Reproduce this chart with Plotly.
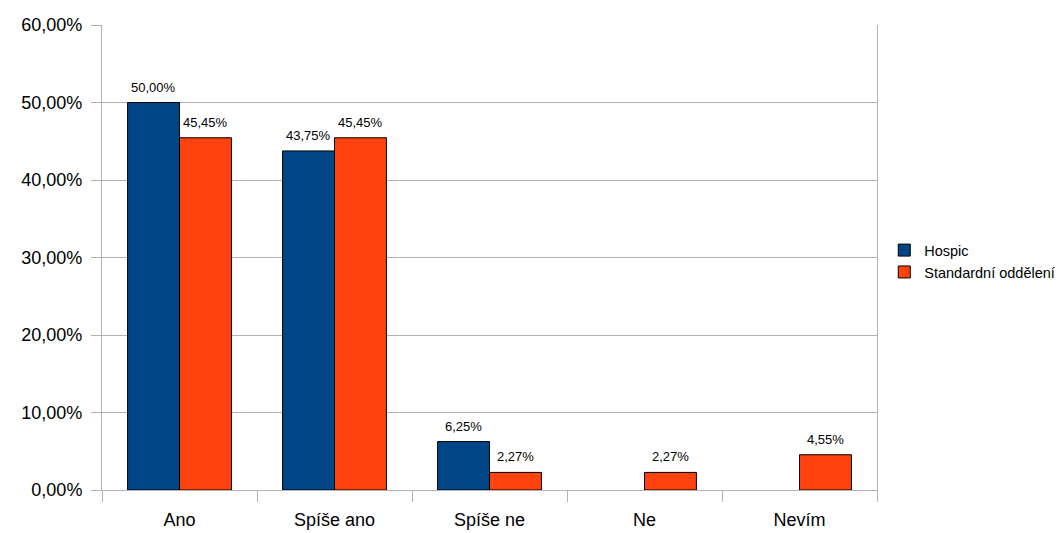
import plotly.graph_objects as go

categories = ["Ano", "Spíše ano", "Spíše ne", "Ne", "Nevím"]
hospic = [0.50, 0.4375, 0.0625, 0.0, 0.0]
standard = [0.4545, 0.4545, 0.0227, 0.0227, 0.0455]
series_names = ["Hospic", "Standardní oddělení"]
colors = ["#004586", "#ff420e"]
y_ticks = [0, 0.1, 0.2, 0.3, 0.4, 0.5, 0.6]

FONT = "Liberation Sans, Arial, sans-serif"
bargap = 0.33

def fmt(v):
    return f"{v * 100:.2f}%".replace(".", ",")

fig = go.Figure()
for name, vals, col in zip(series_names, [hospic, standard], colors):
    fig.add_trace(go.Bar(
        name=name, x=categories, y=vals,
        marker=dict(color=col,
                    line=dict(color="#000000",
                              width=[1 if v > 0 else 0 for v in vals])),
    ))

# value labels
half = (1 - bargap) / 4
annotations = []
for k, vals in enumerate([hospic, standard]):
    off = -half if k == 0 else half
    for i, v in enumerate(vals):
        if v > 0:
            annotations.append(dict(
                x=i + off, y=v, xref="x", yref="y", text=fmt(v),
                showarrow=False, yanchor="bottom", yshift=6,
                font=dict(family=FONT, size=13, color="#000000"),
            ))

fig.update_layout(
    width=1059, height=533,
    margin=dict(l=102, r=182, t=25, b=43),
    paper_bgcolor="white", plot_bgcolor="white",
    barmode="group", bargap=bargap, bargroupgap=0,
    separators=", ",
    font=dict(family=FONT, color="#000000"),
    annotations=annotations,
    legend=dict(
        xref="container", yref="container",
        x=0.835, y=0.51, xanchor="left", yanchor="middle",
        font=dict(family=FONT, size=14.5, color="#000000"),
        itemwidth=30, tracegroupgap=0,
    ),
    showlegend=True,
)
fig.update_xaxes(
    type="category", tickson="boundaries", ticks="outside", ticklen=11,
    tickcolor="#b3b3b3", showline=True, linecolor="#b3b3b3", linewidth=1,
    showgrid=False, tickfont=dict(family=FONT, size=18, color="#000000"),
    ticklabelstandoff=13, automargin=False, range=[-0.5, 4.5],
)
fig.update_yaxes(
    range=[0, 0.6], tickvals=y_ticks, tickformat=".2%",
    ticks="outside", ticklen=10, tickcolor="#b3b3b3",
    showline=True, linecolor="#b3b3b3", linewidth=1, mirror=True,
    showgrid=True, gridcolor="#b3b3b3", gridwidth=1, zeroline=False,
    tickfont=dict(family=FONT, size=18, color="#000000"),
    ticklabelstandoff=5, automargin=False,
)

fig.write_html("out.html")
